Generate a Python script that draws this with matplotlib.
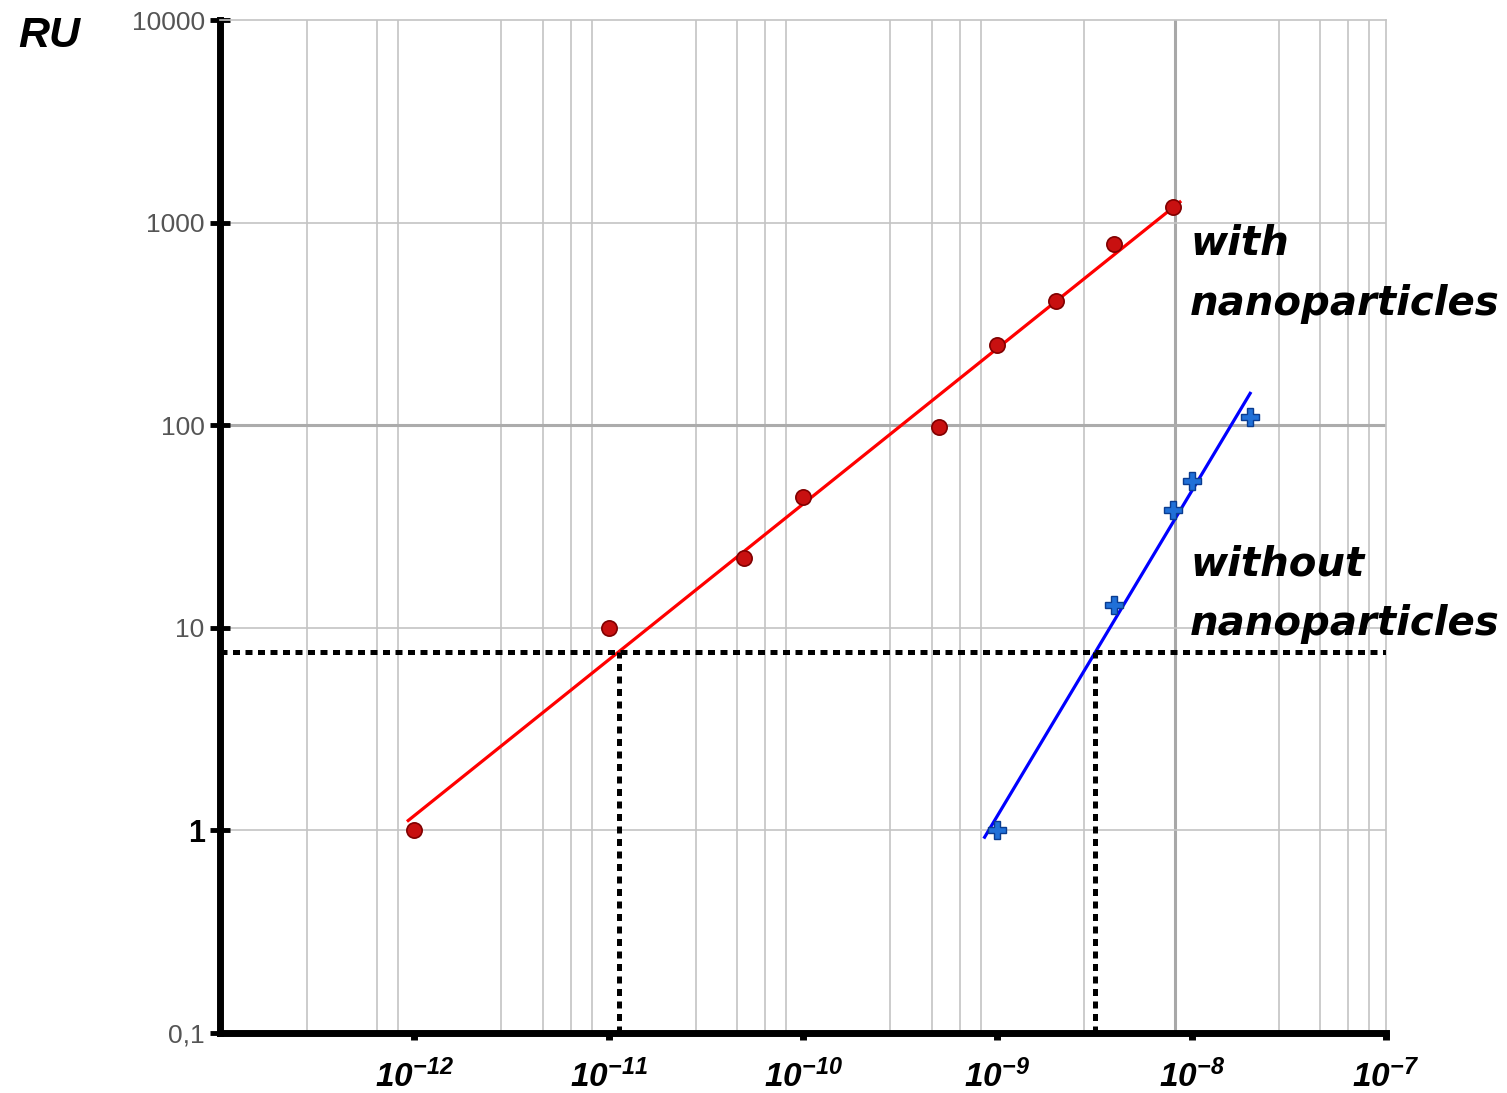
import numpy as np
import matplotlib
matplotlib.use("Agg")
import matplotlib.pyplot as plt
from matplotlib.ticker import FixedLocator, FixedFormatter, NullLocator

plt.rcParams["mathtext.fontset"] = "custom"
plt.rcParams["mathtext.rm"] = "Liberation Sans:italic:bold"
plt.rcParams["mathtext.it"] = "Liberation Sans:italic:bold"
plt.rcParams["mathtext.bf"] = "Liberation Sans:italic:bold"
plt.rcParams["mathtext.default"] = "rm"

# data
conc_with = [1e-12, 1e-11, 5e-11, 1e-10, 5e-10, 1e-9, 2e-9, 4e-9, 8e-9]
ru_with = [1, 10, 22, 44, 98, 250, 410, 780, 1200]
conc_without = [1e-9, 4e-9, 8e-9, 1e-8, 2e-8]
ru_without = [1, 13, 38, 53, 110]
threshold = 7.6

fit_with_range = [0.93e-12, 8.7e-9]
fit_without_range = [0.86e-9, 2.0e-8]

x_ticks = [1e-12, 1e-11, 1e-10, 1e-9, 1e-8, 1e-7]
x_tick_labels = [r"$10^{-12}$", r"$10^{-11}$", r"$10^{-10}$",
                 r"$10^{-9}$", r"$10^{-8}$", r"$10^{-7}$"]
y_ticks = [0.1, 1, 10, 100, 1000, 10000]
y_tick_labels = ["0,1", "1", "10", "100", "1000", "10000"]

grid_mantissa = [2.8, 4.6, 6.4, 8.2]
grid_decades = [-13, -12, -11, -10, -9, -8]
grid_skip = [4.6e-13, 4.6e-9, 6.4e-9]
grid_dark = [8.2e-9]


def loglog_fit(x, y):
    return np.polyfit(np.log10(x), np.log10(y), 1)


def in_list(v, values):
    return any(np.isclose(v, s, rtol=1e-6, atol=0) for s in values)


fig = plt.figure(figsize=(15.07, 10.93), dpi=100)
ax = fig.add_axes([220 / 1507, 1 - 1033 / 1093, 1166 / 1507, 1013 / 1093])
ax.set_xscale("log")
ax.set_yscale("log")
ax.set_xlim(1e-13, 1e-7)
ax.set_ylim(0.1, 10000)

# grid
for d in grid_decades:
    for m in grid_mantissa:
        v = m * 10.0 ** d
        if in_list(v, grid_skip):
            continue
        dark = in_list(v, grid_dark)
        ax.axvline(v, color="#a8a8a8" if dark else "#c4c4c4",
                   lw=2.2 if dark else 1.2, zorder=0)
for v in y_ticks[1:-1]:
    ax.axhline(v, color="#acacac" if v == 100 else "#c4c4c4",
               lw=2.2 if v == 100 else 1.2, zorder=0)

# fits
p_with = loglog_fit(conc_with, ru_with)
p_without = loglog_fit(conc_without, ru_without)
xf = np.array(fit_with_range)
ax.plot(xf, 10 ** np.polyval(p_with, np.log10(xf)), color="#ff0000", lw=2.3, zorder=3)
xf = np.array(fit_without_range)
ax.plot(xf, 10 ** np.polyval(p_without, np.log10(xf)), color="#0000ff", lw=2.3, zorder=3)

ax.plot(conc_with, ru_with, "o", ms=11, color="#c81010", mec="#800000", mew=1.2, zorder=4)
ax.plot(conc_without, ru_without, "P", ms=13, color="#2070d8", mec="#0a3c90", mew=1, zorder=4)

# detection threshold
dash = (0, (1.4, 1.1))
ax.axhline(threshold, color="black", lw=3.6, ls=dash, zorder=5)
for p in (p_with, p_without):
    xc = 10 ** ((np.log10(threshold) - p[1]) / p[0])
    ax.vlines(xc, 0.1, threshold, color="black", lw=3.6, ls=dash, zorder=5)

# axes styling
for s in ("left", "bottom"):
    ax.spines[s].set_linewidth(5)
    ax.spines[s].set_color("black")
for s in ("top", "right"):
    ax.spines[s].set_linewidth(1.2)
    ax.spines[s].set_color("#c4c4c4")

ax.xaxis.set_major_locator(FixedLocator(x_ticks))
ax.xaxis.set_major_formatter(FixedFormatter(x_tick_labels))
ax.xaxis.set_minor_locator(NullLocator())
ax.yaxis.set_major_locator(FixedLocator(y_ticks))
ax.yaxis.set_major_formatter(FixedFormatter(y_tick_labels))
ax.yaxis.set_minor_locator(NullLocator())

ax.tick_params(axis="x", direction="out", length=5, width=5, pad=14,
               labelsize=24, colors="black")
ax.tick_params(axis="y", direction="inout", length=14, width=3.5, pad=4,
               labelsize=19, colors="black")
for lab in ax.get_yticklabels():
    lab.set_family("Liberation Sans")
    lab.set_color("#555555")
    if lab.get_text() == "1":
        lab.set_color("black")
        lab.set_fontweight("bold")
        lab.set_fontsize(22)

fig.text(18 / 1507, 1 - 16 / 1093, "RU", fontsize=31, fontweight="bold",
         style="italic", family="Liberation Sans", va="top", ha="left")
fig.text(1190 / 1507, 1 - 224 / 1093, "with\nnanoparticles", fontsize=29,
         fontweight="bold", style="italic", family="DejaVu Sans",
         va="top", ha="left", linespacing=1.65)
fig.text(1190 / 1507, 1 - 544 / 1093, "without\nnanoparticles", fontsize=29,
         fontweight="bold", style="italic", family="DejaVu Sans",
         va="top", ha="left", linespacing=1.65)

fig.savefig("out.png", dpi=100)
